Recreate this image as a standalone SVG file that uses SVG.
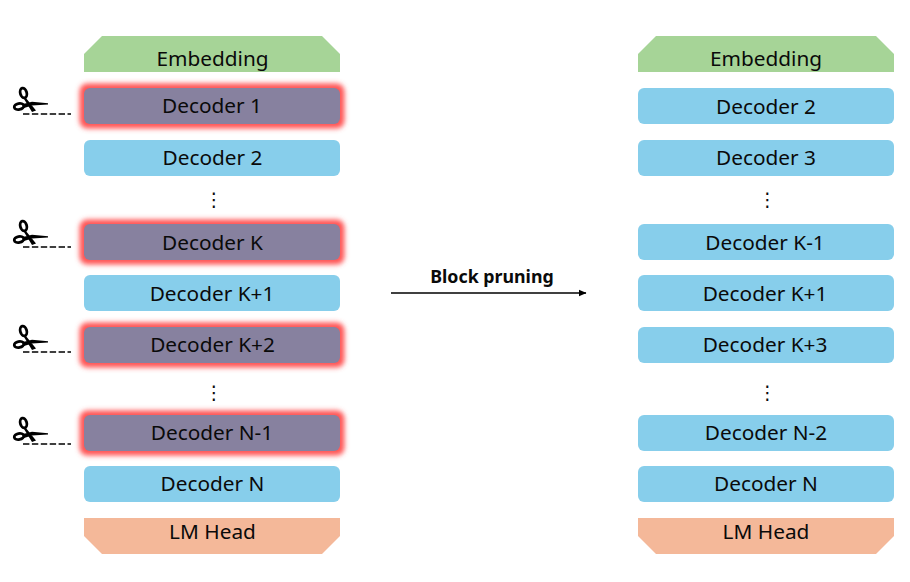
<svg xmlns="http://www.w3.org/2000/svg" xmlns:xlink="http://www.w3.org/1999/xlink" width="910" height="582" viewBox="0 0 910 582">
<style>
text{font-family:"Noto Sans","Open Sans","Liberation Sans",sans-serif;font-size:20.800px;fill:#0a0a0a;text-anchor:middle}
.b{fill:#87ceeb}
.c{fill:#87819f}
.g{fill:#ff5555;filter:url(#glow)}
.e{fill:#a6d497}
.l{fill:#f4b899}
.t{fill:#0a0a0a;font-family:"DejaVu Sans",sans-serif;font-size:19px}
.bl{font-size:17.800px;font-weight:700}
.cut{stroke:#000;stroke-width:1.500;stroke-dasharray:6.400 2.500;fill:none}
</style>
<defs>
<filter id="glow" x="-10%" y="-50%" width="120%" height="200%"><feGaussianBlur stdDeviation="2.600"/></filter>
<marker id="ah" markerWidth="8" markerHeight="8" refX="7.500" refY="4" orient="auto" markerUnits="userSpaceOnUse"><path d="M0 0.500L8 4L0 7.500Z" fill="#000"/></marker>
<g id="sc">
<ellipse cx="23.500" cy="93" rx="3.200" ry="5" transform="rotate(-15 23.500 93)" fill="none" stroke="#000" stroke-width="2.800"/>
<ellipse cx="19" cy="106.500" rx="4.800" ry="3" transform="rotate(-12 19 106.500)" fill="none" stroke="#000" stroke-width="2.800"/>
<path d="M25.500 97.500L36 110.500L32 112L24 99Z M23 104L32 101.800L48 103.200L48 104.400L32 105.500L24 108Z" fill="#000"/>
<path d="M23 114H71" class="cut"/>
</g>
</defs>
<g id="connectors">
<path d="M391 293H586" stroke="#000" stroke-width="1.500" fill="none" marker-end="url(#ah)"/>
<text x="492" y="283" class="bl">Block pruning</text>
</g>
<g id="scissors">
<use xlink:href="#sc" href="#sc"/>
<use xlink:href="#sc" href="#sc" y="133"/>
<use xlink:href="#sc" href="#sc" y="238"/>
<use xlink:href="#sc" href="#sc" y="330"/>
</g>
<g id="l-embedding"><path class="e" d="M102 36H322L340 54V72H84V54Z"/><text x="212.500" y="66">Embedding</text></g>
<g id="l-d1"><rect class="g" x="79.500" y="83.500" width="265" height="45" rx="8"/><rect class="c" x="84" y="88" width="256" height="36" rx="6"/><text x="212" y="113">Decoder 1</text></g>
<g id="l-d2"><rect class="b" x="84" y="140" width="256" height="36" rx="6"/><text x="212.500" y="165">Decoder 2</text></g>
<g id="l-dots1"><text class="t" x="214" y="206">⋮</text></g>
<g id="l-dk"><rect class="g" x="79.500" y="219.500" width="265" height="45" rx="8"/><rect class="c" x="84" y="224" width="256" height="36" rx="6"/><text x="212.500" y="250">Decoder K</text></g>
<g id="l-dk1"><rect class="b" x="84" y="275" width="256" height="36" rx="6"/><text x="212" y="301">Decoder K+1</text></g>
<g id="l-dk2"><rect class="g" x="79.500" y="322.500" width="265" height="45" rx="8"/><rect class="c" x="84" y="327" width="256" height="36" rx="6"/><text x="212.500" y="352">Decoder K+2</text></g>
<g id="l-dots2"><text class="t" x="214" y="399">⋮</text></g>
<g id="l-dn1"><rect class="g" x="79.500" y="410.500" width="265" height="45" rx="8"/><rect class="c" x="84" y="415" width="256" height="36" rx="6"/><text x="212" y="440">Decoder N-1</text></g>
<g id="l-dn"><rect class="b" x="84" y="466" width="256" height="36" rx="6"/><text x="212.500" y="491">Decoder N</text></g>
<g id="l-lm"><path class="l" d="M84 518H340V536L322 554H102L84 536Z"/><text x="212.500" y="539">LM Head</text></g>
<g id="r-embedding"><path class="e" d="M656 36H876L894 54V72H638V54Z"/><text x="766" y="66">Embedding</text></g>
<g id="r-d2"><rect class="b" x="638" y="88" width="256" height="36" rx="6"/><text x="766" y="114">Decoder 2</text></g>
<g id="r-d3"><rect class="b" x="638" y="140" width="256" height="36" rx="6"/><text x="766" y="165">Decoder 3</text></g>
<g id="r-dots1"><text class="t" x="767.500" y="206">⋮</text></g>
<g id="r-dk0"><rect class="b" x="638" y="224" width="256" height="36" rx="6"/><text x="765" y="250">Decoder K-1</text></g>
<g id="r-dk1"><rect class="b" x="638" y="275" width="256" height="36" rx="6"/><text x="765" y="301">Decoder K+1</text></g>
<g id="r-dk3"><rect class="b" x="638" y="327" width="256" height="36" rx="6"/><text x="765" y="352">Decoder K+3</text></g>
<g id="r-dots2"><text class="t" x="767.500" y="399">⋮</text></g>
<g id="r-dn2"><rect class="b" x="638" y="415" width="256" height="36" rx="6"/><text x="766" y="440">Decoder N-2</text></g>
<g id="r-dn"><rect class="b" x="638" y="466" width="256" height="36" rx="6"/><text x="766" y="491">Decoder N</text></g>
<g id="r-lm"><path class="l" d="M638 518H894V536L876 554H656L638 536Z"/><text x="766" y="539">LM Head</text></g>
</svg>
